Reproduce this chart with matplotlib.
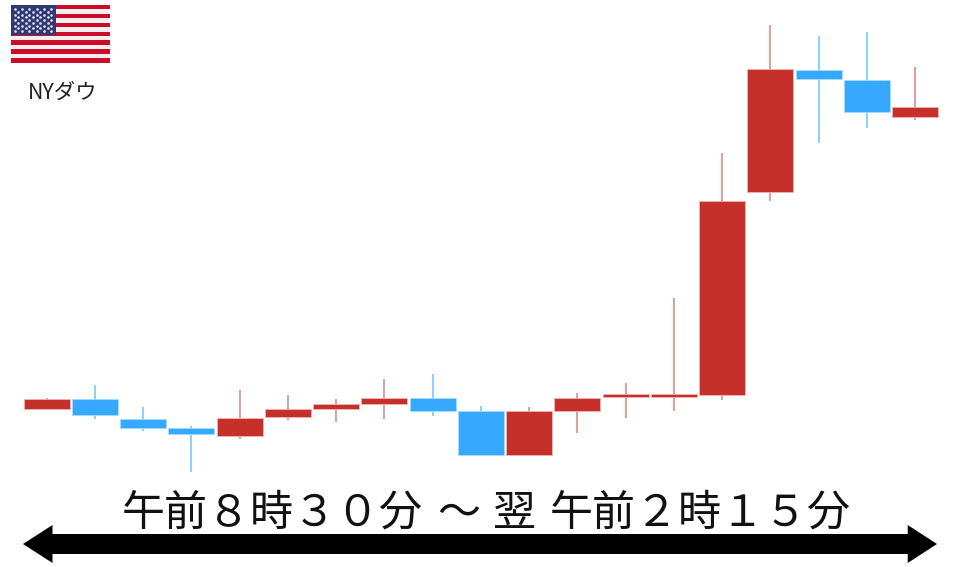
import matplotlib
matplotlib.use("Agg")
import matplotlib.pyplot as plt
from matplotlib.patches import Rectangle, Polygon

plt.rcParams['font.family'] = ['Noto Sans CJK JP', 'DejaVu Sans']

# price (arbitrary units, 1 unit = 1 px of the source)
opens = [158, 168.3, 148.3, 139, 130.7, 149.7, 158, 163.3, 169.3, 155.7, 111.7, 156, 170, 170, 172, 375, 497, 486.7, 450]
closes = [168.3, 152, 139, 132.7, 149.3, 157.7, 163, 169.3, 156, 111.7, 155.7, 169.3, 172.7, 172.7, 365.7, 498, 488, 455.3, 460.3]
highs = [169.3, 182, 160, 141, 177, 171.7, 167.7, 188.3, 192.7, 161.3, 160, 173.7, 183.7, 269, 413.7, 542.3, 531, 535, 500.3]
lows = [157, 148.3, 135.7, 94.7, 128.3, 147.3, 145.3, 148.3, 150.7, 111.7, 111.7, 133.7, 149.3, 156, 167.3, 365.7, 423.7, 439.3, 447]

start_text = "午前８時３０分"
wave_text = "～"
next_day_text = "翌"
end_text = "午前２時１５分"
flag_label = "NYダウ"

red = "#c5302b"
blue = "#36a9ff"
red_wick = "#e59a98"
blue_wick = "#86d2ff"

fig = plt.figure(figsize=(9.6, 5.67), dpi=100)
ax = fig.add_axes([0, 0, 1, 1])
ax.set_xlim(0, 960)
ax.set_ylim(0, 567)
ax.axis("off")

# candles
step = 48.24
first = 46.7
for i in range(len(opens)):
    x = first + i * step
    up = closes[i] > opens[i]
    col = red if up else blue
    wick = red_wick if up else blue_wick
    edge = "#eeb5b3" if up else "#a5dcff"
    ax.plot([x, x], [lows[i], highs[i]], color=wick, lw=1.4, solid_capstyle="butt", zorder=2)
    bottom = min(opens[i], closes[i])
    height = abs(closes[i] - opens[i])
    ax.add_patch(Rectangle((x - 23, bottom), 46, height, facecolor=col, edgecolor=edge, lw=0.6, zorder=3))

# time range arrow
ax.add_patch(Polygon([(23, 23), (52.5, 4), (52.5, 13), (907.7, 13), (907.7, 4), (937, 23),
                      (907.7, 42), (907.7, 33), (52.5, 33), (52.5, 42)], closed=True, facecolor="black", edgecolor="none"))
ax.text(122, 53, start_text, fontsize=31, ha="left", va="center", color="#111111")
ax.text(437, 53, wave_text, fontsize=31, ha="left", va="center", color="#111111")
ax.text(493, 53, next_day_text, fontsize=31, ha="left", va="center", color="#111111")
ax.text(550, 53, end_text, fontsize=31, ha="left", va="center", color="#111111")

# flag
fx, fw = 11, 99
ftop, fbot = 562, 504.5
sh = (ftop - fbot) / 13
for i in range(13):
    c = "#cb0c2a" if i % 2 == 0 else "#f6eeee"
    ax.add_patch(Rectangle((fx, ftop - (i + 1) * sh), fw, sh, facecolor=c, edgecolor="none", zorder=4))
ax.add_patch(Rectangle((fx, 532), 45.3, 30, facecolor="#2f3a72", edgecolor="none", zorder=5))
for r in range(9):
    cols = 6 if r % 2 == 0 else 5
    for c in range(cols):
        sx = fx + 3.7 + c * 7.3 + (0 if r % 2 == 0 else 3.65)
        sy = ftop - 4 - r * 2.75
        ax.plot(sx, sy, "o", ms=1.9, color="#dfe1ee", mew=0, zorder=6)

ax.text(62.5, 474, flag_label, fontsize=15.4, ha="center", va="center", color="#222222")

fig.savefig("out.png", dpi=100)
